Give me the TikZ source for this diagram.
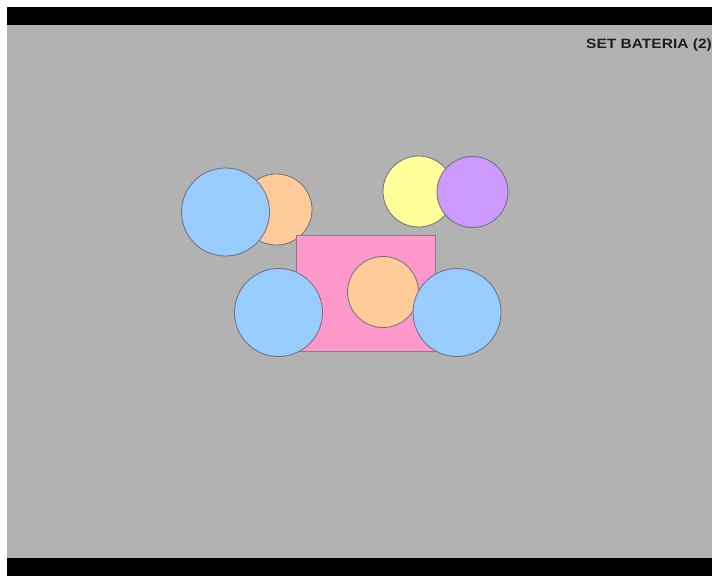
\documentclass[tikz,border=0pt]{standalone}
\usepackage{fontspec}
\setmainfont{Liberation Sans}
\definecolor{bg}{HTML}{B2B2B2}
\definecolor{cblue}{HTML}{99CCFF}
\definecolor{corange}{HTML}{FFCC99}
\definecolor{cyellow}{HTML}{FFFF99}
\definecolor{cpurple}{HTML}{CC99FF}
\definecolor{cpink}{HTML}{FF99CC}
\definecolor{edge}{HTML}{6E6E7A}
\tikzset{
  disc/.style={circle, draw=edge, line width=0.8pt, inner sep=0pt},
  bigdisc/.style={disc, minimum size=88pt},
  smalldisc/.style={disc, minimum size=71pt},
}
\begin{document}
\begin{tikzpicture}[x=1pt,y=-1pt]
\useasboundingbox (0,0) rectangle (712,576);
\clip (0,0) rectangle (712,576);
\fill[white] (0,0) rectangle (712,576);
\fill[black] (7,7) rectangle (712,25);
\fill[bg] (7,25) rectangle (712,558);
\fill[black] (7,558) rectangle (712,576);
\node[anchor=base west, font=\fontsize{13.5}{15}\selectfont\bfseries, text=black!88, inner sep=0pt] (title) at (586,48.3) {\scalebox{1.15}[1]{SET BATERIA (2)}};
% top left pair
\node[smalldisc, fill=corange] (o1) at (276.5,209.5) {};
\node[bigdisc, fill=cblue] (b1) at (225.5,212) {};
% top right pair
\node[smalldisc, fill=cyellow] (y1) at (418.5,191.5) {};
\node[smalldisc, fill=cpurple] (p1) at (472.5,192) {};
% pink rectangle
\node[draw=edge!80!cpink, line width=0.8pt, fill=cpink, minimum width=139pt, minimum height=116pt, inner sep=0pt] (r1) at (365.5,293) {};
\node[smalldisc, fill=corange] (o2) at (383,292) {};
\node[bigdisc, fill=cblue] (b2) at (278.5,312.5) {};
\node[bigdisc, fill=cblue] (b3) at (457,312.5) {};
\end{tikzpicture}
\end{document}
